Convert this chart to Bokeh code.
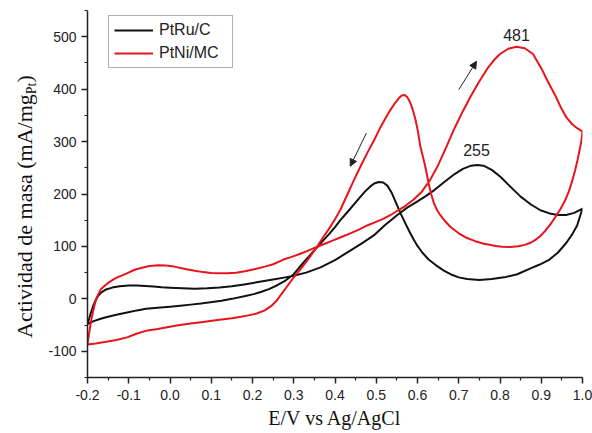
from bokeh.plotting import figure
from bokeh.models import Range1d, FixedTicker, Label, Arrow, NormalHead, Div
from bokeh.layouts import row
from bokeh.embed import file_html
from bokeh.resources import INLINE

# ---------------- data ----------------
series_names = ["PtRu/C", "PtNi/MC"]
series_colors = ["#111111", "#e8141b"]

# PtRu/C : forward scan (-0.2 -> 1.0) then reverse scan (1.0 -> -0.2)
ptru_x = [-0.200, -0.196, -0.192, -0.187, -0.181, -0.175, -0.167, -0.155, -0.140, -0.122,
          -0.100, -0.080, -0.060, -0.040, -0.020, 0.000, 0.030, 0.060, 0.090, 0.120,
          0.150, 0.180, 0.210, 0.250, 0.280, 0.300, 0.330, 0.365, 0.400, 0.437,
          0.465, 0.494, 0.520, 0.551, 0.575, 0.600, 0.620, 0.640, 0.665, 0.690,
          0.710, 0.730, 0.745, 0.760, 0.780, 0.801, 0.825, 0.850, 0.875, 0.898,
          0.920, 0.940, 0.960, 0.980, 1.000,
          0.995, 0.987, 0.975, 0.960, 0.940, 0.920, 0.895, 0.874, 0.842, 0.810,
          0.780, 0.750, 0.720, 0.700, 0.680, 0.664, 0.645, 0.627, 0.612, 0.600,
          0.590, 0.580, 0.570, 0.559, 0.548, 0.537, 0.527, 0.517, 0.506, 0.495,
          0.485, 0.473, 0.462, 0.448, 0.435, 0.413, 0.400, 0.385, 0.370, 0.356,
          0.340, 0.320, 0.300, 0.280, 0.260, 0.240, 0.220, 0.203, 0.180, 0.150,
          0.125, 0.098, 0.075, 0.050, 0.025, 0.000, -0.030, -0.058, -0.080, -0.104,
          -0.130, -0.155, -0.170, -0.185, -0.200]
ptru_y = [-48, -38, -27, -15, -4, 5, 12, 18, 21.5, 24,
          25.5, 25.5, 24.5, 23.5, 22, 21, 20, 19.5, 20, 21.5,
          24, 27.5, 31.5, 37, 41, 44, 50, 60, 74, 92,
          106, 121, 140, 160, 174, 186, 196, 207, 223, 238,
          248, 254, 255.5, 254, 246, 233, 214, 195, 180, 169,
          163, 160, 160, 164, 172,
          160, 140, 123, 106, 88, 75, 65, 58, 47, 41,
          38, 36, 38, 41, 47, 54, 64, 75, 88, 101,
          114, 129, 145, 163, 183, 203, 216, 222, 223, 220,
          214, 205, 195, 182, 170, 150, 137, 123, 110, 98,
          84, 66, 47, 35, 26, 18.5, 13, 9, 5, 0,
          -3.5, -6.5, -9, -11, -13, -15, -17, -19, -22, -26,
          -30.5, -35, -38.5, -42.5, -48]

# PtNi/MC : forward scan then reverse scan
ptni_x = [-0.200, -0.197, -0.193, -0.190, -0.187, -0.183, -0.179, -0.173, -0.167, -0.157,
          -0.147, -0.135, -0.125, -0.106, -0.084, -0.070, -0.050, -0.028, -0.010, 0.010,
          0.037, 0.060, 0.080, 0.100, 0.118, 0.140, 0.160, 0.185, 0.207, 0.230,
          0.250, 0.275, 0.295, 0.316, 0.335, 0.356, 0.377, 0.397, 0.417, 0.437,
          0.458, 0.478, 0.498, 0.518, 0.535, 0.551, 0.570, 0.590, 0.610, 0.630,
          0.650, 0.670, 0.690, 0.710, 0.730, 0.750, 0.770, 0.785, 0.800, 0.820,
          0.840, 0.860, 0.880, 0.900, 0.915, 0.934, 0.947, 0.961, 0.975, 0.988,
          1.000,
          0.997, 0.993, 0.988, 0.982, 0.975, 0.967, 0.958, 0.947, 0.935, 0.923,
          0.910, 0.898, 0.885, 0.874, 0.860, 0.845, 0.825, 0.805, 0.790, 0.775,
          0.761, 0.740, 0.720, 0.700, 0.680, 0.667, 0.655, 0.647, 0.640, 0.633,
          0.627, 0.619, 0.612, 0.607, 0.601, 0.595, 0.590, 0.585, 0.580, 0.575,
          0.568, 0.562, 0.555, 0.545, 0.534, 0.522, 0.510, 0.495, 0.478, 0.462,
          0.445, 0.430, 0.413, 0.400, 0.385, 0.370, 0.356, 0.340, 0.320, 0.300,
          0.285, 0.270, 0.259, 0.245, 0.230, 0.210, 0.187, 0.165, 0.150, 0.130,
          0.106, 0.080, 0.050, 0.020, -0.007, -0.030, -0.058, -0.080, -0.104, -0.130,
          -0.155, -0.180, -0.200]
ptni_y = [-86, -70, -50, -37, -26, -12, 0, 10, 19, 26,
          32, 38, 42, 48, 56, 59, 62.5, 64, 63.5, 61.5,
          57, 53.5, 51, 49.5, 49, 49, 50, 53, 57, 61.5,
          66, 75, 80, 86, 92, 99, 105.5, 112, 118.5, 125,
          132, 140, 146.5, 153, 160, 168, 177, 189, 204, 226,
          255, 290, 326, 358, 388, 415, 440, 455, 467, 477,
          481, 478, 467, 440, 416, 388, 366, 346, 333, 325,
          319,
          300, 284, 265, 245, 225, 205, 188, 172, 157, 143,
          130, 120, 112, 107, 103, 100.5, 99, 99.5, 101, 103,
          105, 110, 116, 125, 137, 148, 160, 170, 182, 200,
          220, 252, 275, 290, 320, 342, 357, 369, 378, 385,
          389, 388, 383, 373, 360, 344, 327, 303, 278, 253,
          225, 199, 170, 152, 133, 116, 99, 81, 60, 41,
          25, 9, -3, -14, -22, -28, -32, -35, -37, -39,
          -41.5, -44, -47, -50.5, -54, -57.5, -61, -66, -73.5, -78.5,
          -82, -85, -87]

peak_labels = ["481", "255"]
peak_label_x = [0.840, 0.743]
peak_label_y = [504, 283]

x_ticks = [-0.2, -0.1, 0.0, 0.1, 0.2, 0.3, 0.4, 0.5, 0.6, 0.7, 0.8, 0.9, 1.0]
x_tick_labels = ["-0.2", "-0.1", "0.0", "0.1", "0.2", "0.3", "0.4", "0.5", "0.6",
                 "0.7", "0.8", "0.9", "1.0"]
y_ticks = [-100, 0, 100, 200, 300, 400, 500]
y_tick_labels = ["-100", "0", "100", "200", "300", "400", "500"]

x_title = "E/V vs Ag/AgCl"
y_title_main = "Actividad de masa (mA/mg"
y_title_sub = "Pt"
y_title_end = ")"

# ---------------- layout sizes ----------------
DIV_W = 44
FIG_W = 592 - DIV_W
FIG_H = 433

# ---------------- figure ----------------
p = figure(width=FIG_W, height=FIG_H, output_backend="svg", toolbar_location=None,
           x_range=Range1d(-0.2, 1.0), y_range=Range1d(-150, 550),
           min_border_left=87 - DIV_W, min_border_right=10, min_border_top=10,
           min_border_bottom=56)
p.outline_line_color = None
p.xgrid.visible = False
p.ygrid.visible = False
p.background_fill_color = "white"
p.border_fill_color = "white"

p.line(ptru_x, ptru_y, line_color=series_colors[0], line_width=2,
       line_join="round", legend_label=series_names[0])
p.line(ptni_x, ptni_y, line_color=series_colors[1], line_width=2,
       line_join="round", legend_label=series_names[1])

# axes
x_minor = [round(t + 0.05, 2) for t in x_ticks[:-1]]
y_minor = [-150] + [t + 50 for t in y_ticks]
p.xaxis[0].ticker = FixedTicker(ticks=x_ticks, minor_ticks=x_minor)
p.yaxis[0].ticker = FixedTicker(ticks=y_ticks, minor_ticks=y_minor)
p.xaxis[0].major_label_overrides = {t: s for t, s in zip(x_ticks, x_tick_labels)}
p.yaxis[0].major_label_overrides = {t: s for t, s in zip(y_ticks, y_tick_labels)}

for ax in (p.xaxis[0], p.yaxis[0]):
    ax.axis_line_color = "#222222"
    ax.axis_line_width = 1.5
    ax.major_tick_line_color = "#222222"
    ax.major_tick_line_width = 1.5
    ax.minor_tick_line_color = "#222222"
    ax.minor_tick_line_width = 1.2
    ax.major_tick_in = 0
    ax.major_tick_out = 6
    ax.minor_tick_in = 0
    ax.minor_tick_out = 3
    ax.major_label_text_font = "Liberation Sans"
    ax.major_label_text_font_size = "14px"
    ax.major_label_text_color = "#222222"
p.xaxis[0].major_label_standoff = 6
p.yaxis[0].major_label_standoff = 5
p.yaxis[0].axis_label = None

p.xaxis[0].axis_label = x_title
p.xaxis[0].axis_label_text_font = "Liberation Serif"
p.xaxis[0].axis_label_text_font_size = "20px"
p.xaxis[0].axis_label_text_font_style = "normal"
p.xaxis[0].axis_label_text_color = "#111111"
p.xaxis[0].axis_label_standoff = 4

# peak values
for t, lx, ly in zip(peak_labels, peak_label_x, peak_label_y):
    p.add_layout(Label(x=lx, y=ly, text=t, text_font="Liberation Sans",
                       text_font_size="16px", text_align="center",
                       text_baseline="middle", text_color="#222222"))

# scan direction arrows
p.add_layout(Arrow(x_start=0.700, y_start=399, x_end=0.743, y_end=453,
                   line_color="#222222", line_width=1,
                   end=NormalHead(size=7, fill_color="#222222", line_color="#222222")))
p.add_layout(Arrow(x_start=0.476, y_start=316, x_end=0.437, y_end=253,
                   line_color="#222222", line_width=1,
                   end=NormalHead(size=7, fill_color="#222222", line_color="#222222")))

# legend
lg = p.legend[0]
lg.location = (21, 309)
lg.border_line_color = "#666666"
lg.border_line_width = 1
lg.background_fill_alpha = 1
lg.padding = 5
lg.spacing = 5
lg.margin = 0
lg.label_height = 18
lg.glyph_height = 18
lg.glyph_width = 39
lg.label_standoff = 6
lg.label_width = 68
lg.label_text_font = "Liberation Sans"
lg.label_text_font_size = "16px"
lg.label_text_color = "#222222"

# y-axis title with subscript (rotated HTML text beside the figure)
ytitle_html = (
    '<div style="transform: translate(11.6px, 338px) rotate(-90deg); '
    'transform-origin: 0 0; white-space: nowrap; font-family: \'Liberation Serif\'; '
    'font-size: 22px; line-height: 26px; color: #111111;">'
    + y_title_main
    + '<span style="font-size: 14px; position: relative; top: 4px;">' + y_title_sub + '</span>'
    + y_title_end + '</div>'
)
ydiv = Div(text=ytitle_html, width=DIV_W, height=FIG_H, margin=0)

layout = row(ydiv, p, spacing=0)
open("out.html", "w").write(file_html(layout, INLINE))
